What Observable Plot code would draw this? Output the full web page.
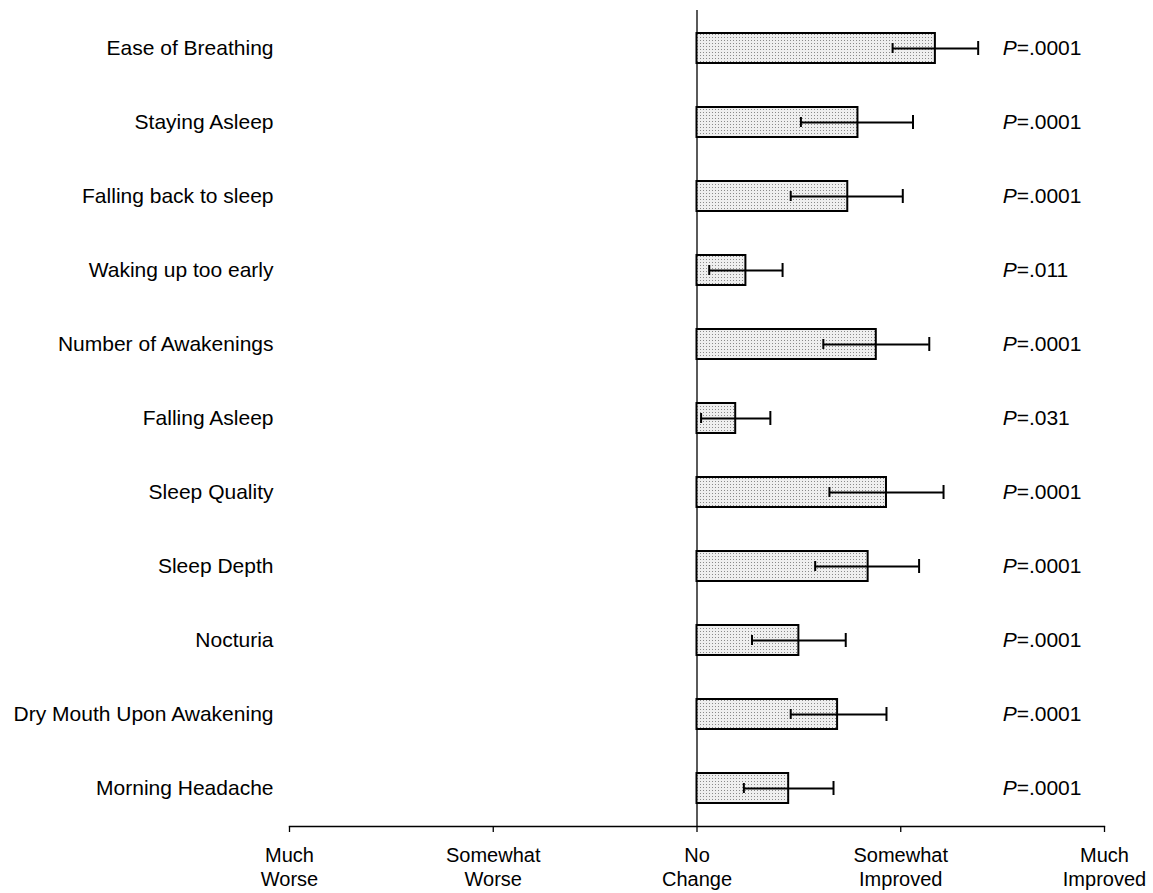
<!DOCTYPE html>
<html><head><meta charset="utf-8">
<script src="https://cdn.jsdelivr.net/npm/d3@7"></script>
<script src="https://cdn.jsdelivr.net/npm/@observablehq/plot@0.6"></script>
<style>body{margin:0;background:#fff}</style>
</head><body><div id="chart"></div>
<script>
const categories = ["Ease of Breathing","Staying Asleep","Falling back to sleep","Waking up too early","Number of Awakenings","Falling Asleep","Sleep Quality","Sleep Depth","Nocturia","Dry Mouth Upon Awakening","Morning Headache"];
const means = [1.17, 0.79, 0.74, 0.24, 0.88, 0.19, 0.93, 0.84, 0.50, 0.69, 0.45];
const lower = [0.96, 0.51, 0.46, 0.06, 0.62, 0.02, 0.65, 0.58, 0.27, 0.46, 0.23];
const upper = [1.38, 1.06, 1.01, 0.42, 1.14, 0.36, 1.21, 1.09, 0.73, 0.93, 0.67];
const pValues = [".0001",".0001",".0001",".011",".0001",".031",".0001",".0001",".0001",".0001",".0001"];
const tickValues = [-2, -1, 0, 1, 2];
const tickLabels = ["Much\nWorse","Somewhat\nWorse","No\nChange","Somewhat\nImproved","Much\nImproved"];
const pLabelX = 1.5;

const rows = categories.map((c, i) => ({category: c, mean: means[i], lo: lower[i], hi: upper[i], p: pValues[i]}));

const chart = Plot.plot({
  width: 1153, height: 893,
  marginTop: 10, marginBottom: 67, marginLeft: 289, marginRight: 49,
  style: {fontFamily: "'Liberation Sans', Arial, Helvetica, sans-serif", fontSize: "21px", color: "#000", background: "#fff"},
  x: {domain: [-2, 2]},
  y: {domain: categories, paddingInner: 0.6, paddingOuter: 0.3, label: null},
  marks: [
    Plot.frame({anchor: "bottom", stroke: "#000", strokeWidth: 1.3}),
    Plot.axisX(tickValues, {tickSize: 6, tickPadding: 12, tickFormat: d => tickLabels[tickValues.indexOf(d)], lineHeight: 1.2, label: null, fontSize: 20, strokeWidth: 1.3}),
    Plot.axisY({tickSize: 0, tickPadding: 16, label: null, fontSize: 21}),
    Plot.ruleX([0], {stroke: "#000", strokeWidth: 1.3}),
    Plot.barX(rows, {y: "category", x1: 0, x2: "mean", fill: "url(#dots)", stroke: "#000", strokeWidth: 2}),
    Plot.ruleY(rows, {y: "category", x1: "lo", x2: "hi", stroke: "#000", strokeWidth: 2}),
    Plot.tickX(rows, {y: "category", x: "lo", stroke: "#000", strokeWidth: 2, insetTop: 10, insetBottom: 10}),
    Plot.tickX(rows, {y: "category", x: "hi", stroke: "#000", strokeWidth: 2, insetTop: 8, insetBottom: 8}),
    Plot.text(rows, {y: "category", x: () => pLabelX, text: () => "P", fontStyle: "italic", textAnchor: "start", fontSize: 21}),
    Plot.text(rows, {y: "category", x: () => pLabelX, text: d => "=" + d.p, textAnchor: "start", dx: 14, fontSize: 21})
  ]
});

const defs = d3.select(chart).insert("defs", ":first-child");
const pat = defs.append("pattern").attr("id", "dots").attr("patternUnits", "userSpaceOnUse").attr("width", 3).attr("height", 3);
pat.append("rect").attr("width", 3).attr("height", 3).attr("fill", "#efefef");
pat.append("rect").attr("x", 1).attr("y", 1).attr("width", 1).attr("height", 1).attr("fill", "#8a8a8a");

document.getElementById("chart").appendChild(chart);
</script>
</body></html>
